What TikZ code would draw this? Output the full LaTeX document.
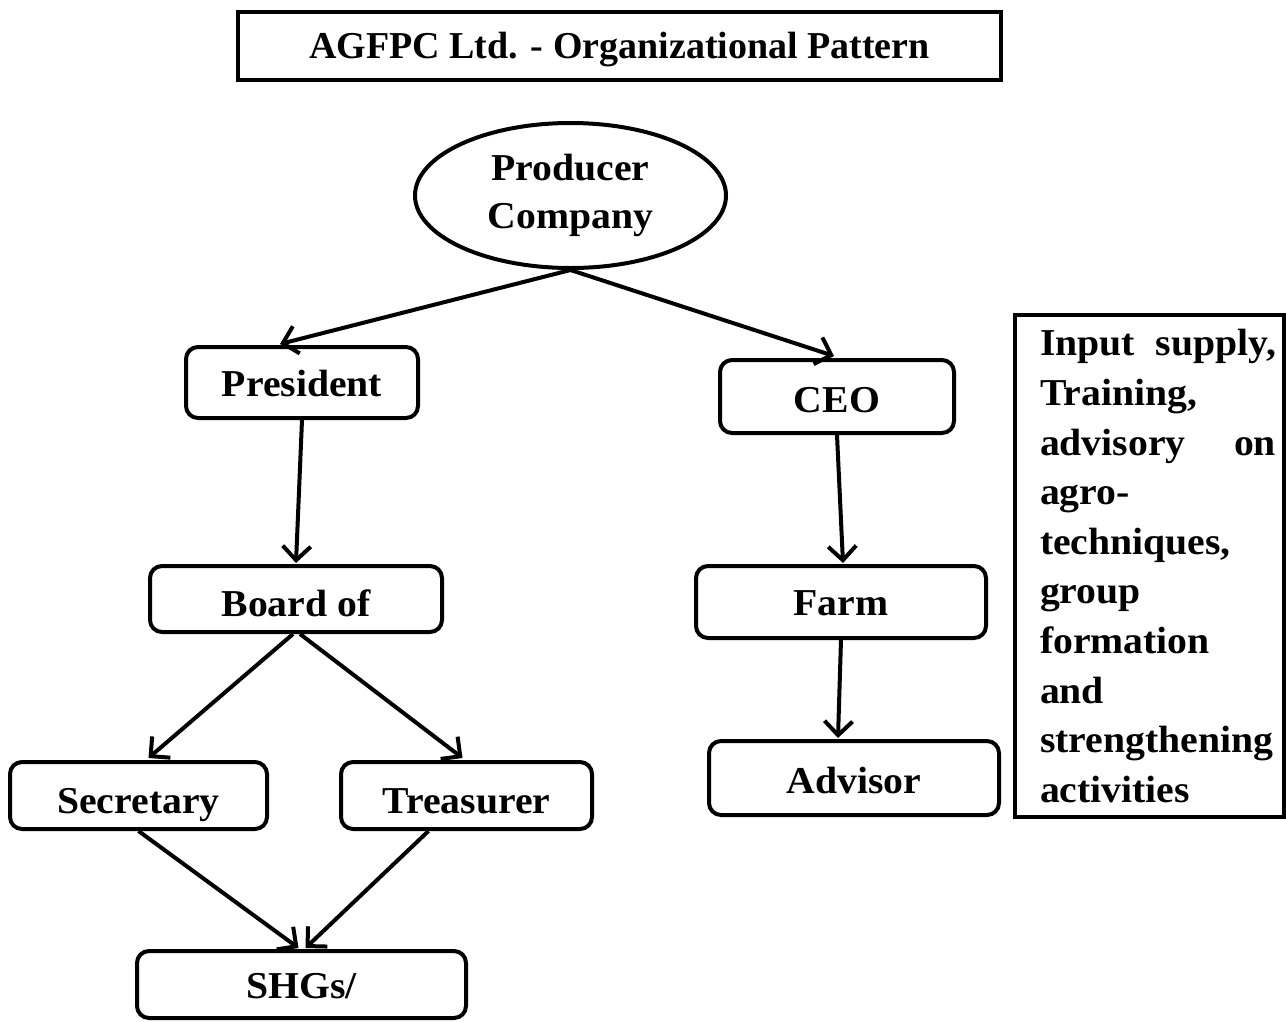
\documentclass[tikz,border=0pt]{standalone}
\usepackage{fontspec}
\setmainfont[FakeStretch=1.045]{Liberation Serif}
\newfontfamily\headfont{Liberation Serif}
\usetikzlibrary{arrows.meta,shapes.geometric,calc}
\tikzset{
  lbl/.style={font=\fontsize{38}{49.6}\selectfont\bfseries},
  rbox/.style={lbl,draw,line width=4pt,rounded corners=12pt,inner sep=0pt,text height=30pt,text depth=0pt},
  flow/.style={line width=4pt,-{Straight Barb[length=14pt,width=28pt,line width=4pt]}}
}
\newcommand{\spreadline}[1]{\leavevmode\hbox to 236pt{#1}}
\begin{document}
\begin{tikzpicture}[x=1pt,y=-1pt]
\useasboundingbox (0,0) rectangle (1286,1021);

% title
\node[font=\headfont\fontsize{38}{46}\selectfont\bfseries,draw,line width=4pt,minimum width=763pt,minimum height=68pt,inner sep=0pt,text height=24pt,text depth=0pt] (title) at (619.5,46) {AGFPC Ltd. - Organizational Pattern};

% top-level ellipse
\node[lbl,draw,ellipse,line width=4pt,minimum width=311pt,minimum height=145pt,inner sep=0pt,align=center,font=\fontsize{38}{48}\selectfont\bfseries] (pc) at (570.5,195.5) {Producer\\Company};

% left branch
\node[rbox,minimum width=232pt,minimum height=71pt,text height=28pt] (pres) at (302,382.5) {President};
\node[rbox,minimum width=292pt,minimum height=66pt,text height=35pt] (board) at (296,599) {Board of};
\node[rbox,minimum width=257pt,minimum height=67pt,text height=35pt] (sec) at (138.5,795.5) {Secretary};
\node[rbox,minimum width=251pt,minimum height=67pt,text height=35pt] (tre) at (466.5,795.5) {Treasurer};
\node[rbox,minimum width=329pt,minimum height=67pt,text height=27pt] (shg) at (301.5,984.5) {SHGs/};

% right branch
\node[rbox,minimum width=234pt,minimum height=73pt,text height=31pt] (ceo) at (837,396.5) {CEO};
\node[rbox,minimum width=290pt,minimum height=72pt,text height=26pt] (farm) at (841,602) {Farm};
\node[rbox,minimum width=290pt,minimum height=74pt] (adv) at (854,778) {Advisor};

% activities box
\node[lbl,draw,line width=4pt,minimum width=269pt,minimum height=502pt,text width=269pt,align=left,inner sep=0pt] (act) at (1149.5,566) {%
\leftskip=25pt\relax
\spreadline{Input\hfill supply,}\\
Training,\\
\spreadline{advisory\hfill on}\\
agro-\\
techniques,\\
group\\
formation\\
and\\
strengthening\\
activities\par};

% connectors
\draw[flow] (pc.south) -- ($(pres.north)+(-22,-1)$);
\draw[flow] (pc.south) -- ($(ceo.north)+(-3,-2)$);
\draw[flow] (pres.south) -- ($(board.north)+(0,-1)$);
\draw[flow] ($(board.south)+(-3,0)$) -- ($(sec.north)+(10,-2)$);
\draw[flow] ($(board.south)+(4,0)$) -- ($(tre.north)+(-4,-2)$);
\draw[flow] (ceo.south) -- ($(farm.north)+(2,-1)$);
\draw[flow] (farm.south) -- ($(adv.north)+(-16,-1)$);
\draw[flow] (sec.south) -- ($(shg.north)+(-3,-1)$);
\draw[flow] ($(tre.south)+(-38,0)$) -- ($(shg.north)+(4,-1)$);
\end{tikzpicture}
\end{document}
